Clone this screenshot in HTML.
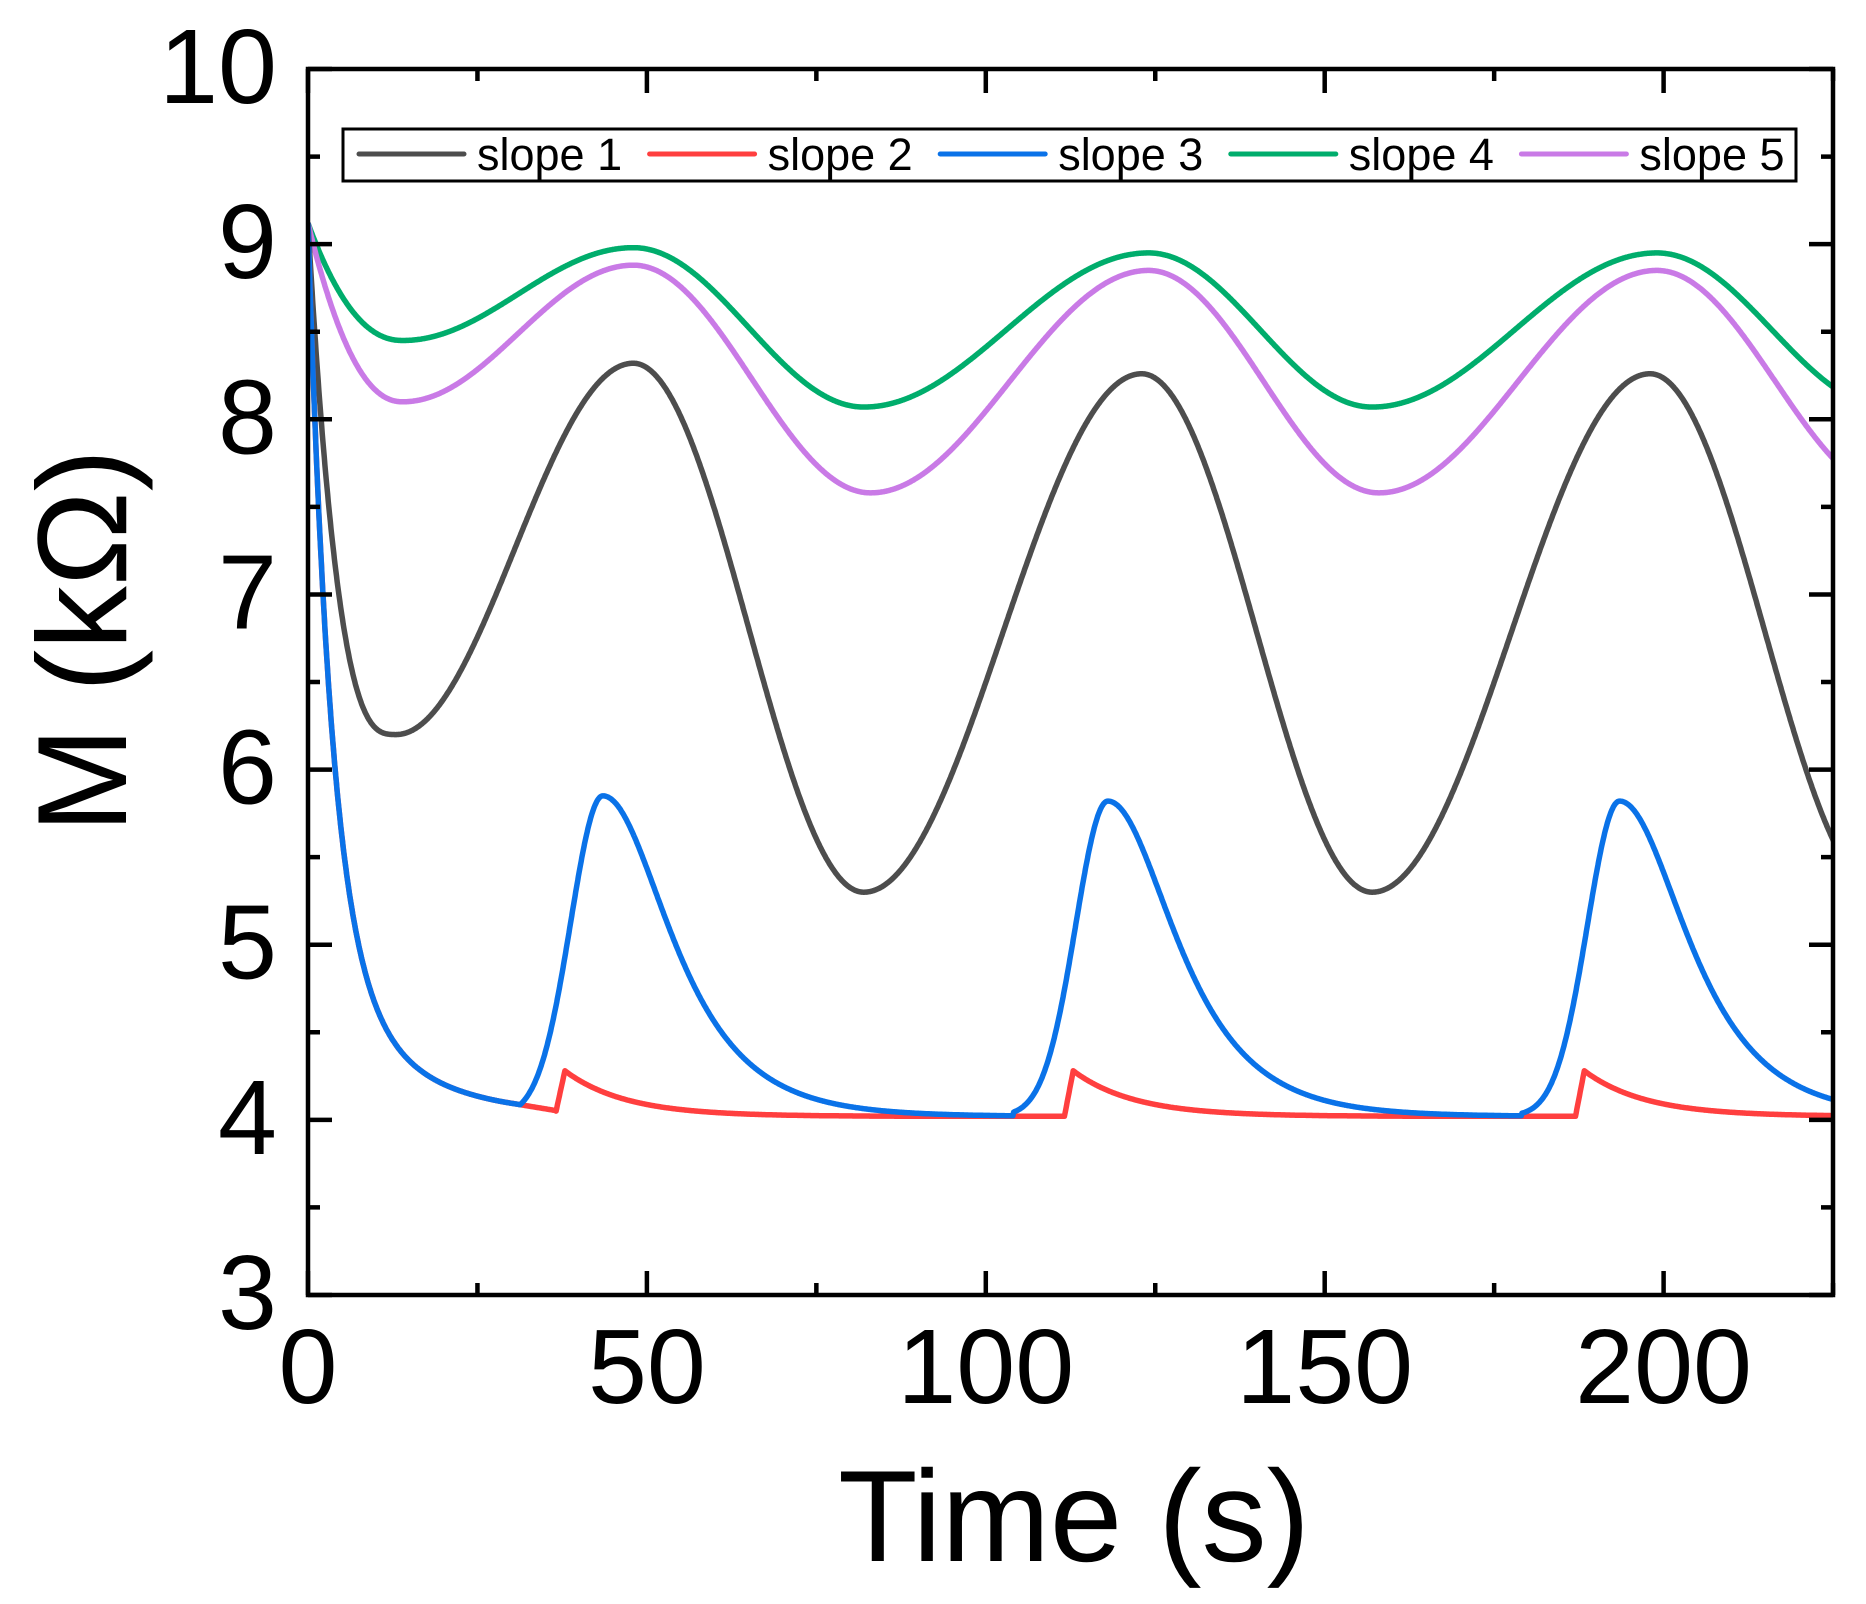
<!DOCTYPE html>
<html><head><meta charset="utf-8"><style>
html,body{margin:0;padding:0;background:#fff;}
svg{display:block;}
text{font-family:"Liberation Sans",Arial,sans-serif;fill:#000;}
</style></head><body>
<svg id="s" width="1866" height="1604" xmlns="http://www.w3.org/2000/svg">
<defs><clipPath id="c"><rect x="308" y="69" width="1525" height="1226"/></clipPath></defs>
<g id="curves" clip-path="url(#c)" fill="none" stroke-width="5.5" stroke-linejoin="round"></g>
<rect x="308" y="69" width="1525" height="1226" fill="none" stroke="#000" stroke-width="4.5"/>
<g id="ticks" stroke="#000" stroke-width="4.5"></g>
<g id="labels" font-size="106"></g>
<rect x="343" y="129" width="1453" height="52" fill="#fff" stroke="#000" stroke-width="3"/>
<g id="legend" font-size="45"></g>
<text x="1074" y="1561" font-size="130" text-anchor="middle">Time (s)</text>
<text transform="translate(126,641) rotate(-90)" font-size="127" text-anchor="middle">M (kΩ)</text>
</svg>
<script>
const NS="http://www.w3.org/2000/svg";
const X=t=>308+t*6.778, Y=v=>1295-(v-3)*175.14;
function el(p,tag,a,txt){const e=document.createElementNS(NS,tag);for(const k in a)e.setAttribute(k,a[k]);if(txt!==undefined)e.textContent=txt;document.getElementById(p).appendChild(e);}
let d="";
for(let v=3;v<=10.001;v+=0.5){const maj=Math.abs(v-Math.round(v))<1e-6;const L=maj?24:12;const y=Y(v);
 d+=`M308 ${y}h${L}M1833 ${y}h${-L}`;}
for(let t=0;t<=225;t+=25){const maj=t%50==0;const L=maj?24:12;const x=X(t);
 d+=`M${x} 1295v${-L}M${x} 69v${L}`;}
el("ticks","path",{d:d});
for(let v=3;v<=10;v++)el("labels","text",{x:277,y:Y(v)+34,"text-anchor":"end"},String(v));
for(let t=0;t<=200;t+=50)el("labels","text",{x:X(t),y:1403,"text-anchor":"middle"},String(t));
function cosInterp(pts,t){for(let i=0;i<pts.length-1;i++){const[a,va]=pts[i],[b,vb]=pts[i+1];if(t>=a&&t<=b){const u=(t-a)/(b-a);return va+(vb-va)*(1-Math.cos(Math.PI*u))/2;}}return pts[pts.length-1][1];}
function initDecay(t){return 4.02+4.2*Math.exp(-t/3.5)+0.9*Math.exp(-t/12);}
function s1(t){if(t<13){const u=t/13;return 6.2+(9.12-6.2)*Math.pow(1-u,3);}
 return cosInterp([[13,6.2],[48,8.32],[82,5.3],[123,8.26],[157,5.3],[198,8.26],[232,5.3]],t);}
function s4(t){if(t<14){const u=t/14;return 8.45+(9.12-8.45)*Math.pow(1-u,2.2);}
 return cosInterp([[14,8.45],[48,8.98],[82,8.07],[124,8.95],[157,8.07],[199,8.95],[233,8.07]],t);}
function s5(t){if(t<14){const u=t/14;return 8.1+(9.12-8.1)*Math.pow(1-u,2.2);}
 return cosInterp([[14,8.1],[48,8.88],[83,7.58],[124,8.85],[158,7.58],[199,8.85],[234,7.58]],t);}
const peaks=[[43.5,1.83,29],[118,1.80,104],[193.5,1.80,179]];
function blue(t){let v=initDecay(t);
 for(const[p,h,st]of peaks){if(t>=st){let w;if(t<=p)w=h*Math.exp(-Math.pow((t-p)/6.7,2));else w=h/Math.cosh((t-p)/8.7);v=Math.max(v,4.02+w);}}
 return v;}
const spikes=[36.6,111.6,187];
function red(t){if(t<=28.8)return initDecay(t);
 let v;if(t<36.6)v=initDecay(28.8)-(t-28.8)/(36.6-28.8)*0.05;else v=4.02+0.03*Math.exp(-(t-36.6)/5);
 for(const s of spikes){const base=(s===36.6)?4.05:4.02;if(t>=s&&t<s+1.3){v=Math.max(v,base+(4.28-base)*(t-s)/1.3);}
  else if(t>=s+1.3){v=Math.max(v,4.02+0.26*Math.exp(-(t-s-1.3)/9));}}
 return v;}
function path(f){let s="";for(let t=0;t<=226;t+=0.1){s+=(t===0?"M":"L")+X(t).toFixed(1)+" "+Y(f(t)).toFixed(1);}return s;}
const series=[[s1,"#4d4d4d"],[red,"#ff3f3f"],[blue,"#0a72e8"],[s4,"#00ad6c"],[s5,"#c97ae6"]];
for(const[f,c]of [series[3],series[4],series[0],series[1],series[2]])el("curves","path",{d:path(f),stroke:c});
const names=["slope 1","slope 2","slope 3","slope 4","slope 5"];
series.forEach(([f,c],i)=>{const x0=359+i*290.6;
 el("legend","line",{x1:x0,y1:154,x2:x0+105,y2:154,stroke:c,"stroke-width":5,"stroke-linecap":"round"});
 el("legend","text",{x:x0+118,y:170},names[i]);});
</script>
</body></html>
